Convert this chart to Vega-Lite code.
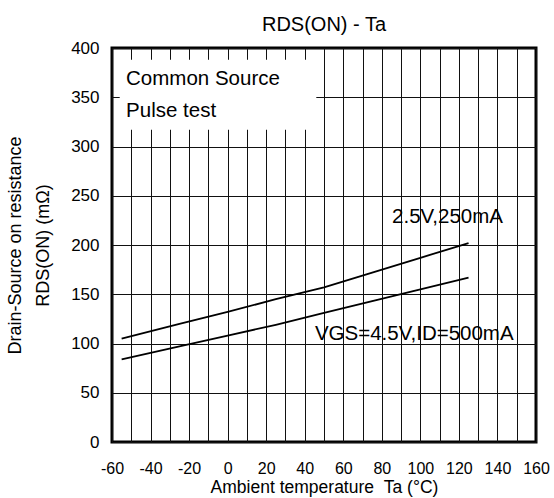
{
  "$schema": "https://vega.github.io/schema/vega-lite/v6.json",
  "width": 424,
  "height": 394,
  "autosize": "none",
  "padding": {"left": 112, "top": 48, "right": 18, "bottom": 56},
  "background": "white",
  "title": {"text": "RDS(ON) - Ta", "fontSize": 20, "font": "Liberation Sans", "fontWeight": "normal", "color": "black", "baseline": "alphabetic", "offset": 18, "dy": 30, "anchor": "middle", "frame": "group"},
  "config": {
    "view": {"stroke": "black", "strokeWidth": 3},
    "axis": {"domain": false, "ticks": false, "gridColor": "#111", "gridWidth": 1, "gridOpacity": 1, "labelFont": "Liberation Sans", "labelFontSize": 17, "labelColor": "black", "titleFont": "Liberation Sans", "titleFontSize": 18, "titleFontWeight": "normal", "titleColor": "black", "labelFlush": false}
  },
  "datasets": {
    "curves": [
      {"Ta": -55, "R": 105, "series": "2.5V,250mA"},
      {"Ta": -25, "R": 120, "series": "2.5V,250mA"},
      {"Ta": 0, "R": 132, "series": "2.5V,250mA"},
      {"Ta": 25, "R": 145, "series": "2.5V,250mA"},
      {"Ta": 50, "R": 157, "series": "2.5V,250mA"},
      {"Ta": 75, "R": 172, "series": "2.5V,250mA"},
      {"Ta": 100, "R": 187, "series": "2.5V,250mA"},
      {"Ta": 125, "R": 202, "series": "2.5V,250mA"},
      {"Ta": -55, "R": 84, "series": "4.5V,500mA"},
      {"Ta": -25, "R": 97, "series": "4.5V,500mA"},
      {"Ta": 0, "R": 108, "series": "4.5V,500mA"},
      {"Ta": 25, "R": 119, "series": "4.5V,500mA"},
      {"Ta": 50, "R": 131, "series": "4.5V,500mA"},
      {"Ta": 75, "R": 143, "series": "4.5V,500mA"},
      {"Ta": 100, "R": 155, "series": "4.5V,500mA"},
      {"Ta": 125, "R": 167, "series": "4.5V,500mA"}
    ],
    "box": [{"Ta": -56, "Ta2": 46, "R": 317, "R2": 388}],
    "notes": [
      {"Ta": -52.7, "R": 362, "label": "Common Source"},
      {"Ta": -52.7, "R": 330, "label": "Pulse test"},
      {"Ta": 85.3, "R": 222, "label": "2.5V,250mA"},
      {"Ta": 45.3, "R": 103.5, "label": "VGS=4.5V,ID=500mA"}
    ]
  },
  "encoding": {
    "x": {"field": "Ta", "type": "quantitative", "scale": {"domain": [-60, 160], "nice": false, "zero": false},
      "axis": {"values": [-60,-50,-40,-30,-20,-10,0,10,20,30,40,50,60,70,80,90,100,110,120,130,140,150,160], "labelExpr": "datum.value % 20 == 0 ? '' + datum.value : ''", "labelOverlap": false, "labelFlush": false, "labelFontSize": 16, "labelPadding": 18, "title": "Ambient temperature\u00a0\u00a0Ta (°C)", "titleFontSize": 17.5, "titleY": 50, "titleBaseline": "alphabetic"}},
    "y": {"field": "R", "type": "quantitative", "scale": {"domain": [0, 400], "nice": false},
      "axis": {"values": [0,50,100,150,200,250,300,350,400], "labelOverlap": false, "labelFlush": false, "labelPadding": 13, "title": ["Drain-Source on resistance", "\u00a0\u00a0\u00a0\u00a0\u00a0\u00a0\u00a0RDS(ON) (mΩ)"], "titleLineHeight": 28, "titleX": -92, "titleY": 197, "titleAngle": -90, "titleBaseline": "alphabetic", "titleAlign": "center"}}
  },
  "layer": [
    {
      "data": {"name": "box"},
      "mark": {"type": "rect", "fill": "white", "stroke": null},
      "encoding": {
        "x2": {"field": "Ta2"},
        "y2": {"field": "R2"}
      }
    },
    {
      "data": {"name": "curves"},
      "mark": {"type": "line", "color": "black", "strokeWidth": 1.8},
      "encoding": {
        "detail": {"field": "series"}
      }
    },
    {
      "data": {"name": "notes"},
      "mark": {"type": "text", "align": "left", "baseline": "alphabetic", "font": "Liberation Sans", "fontSize": 20.5, "color": "black"},
      "encoding": {
        "text": {"field": "label"}
      }
    }
  ]
}
